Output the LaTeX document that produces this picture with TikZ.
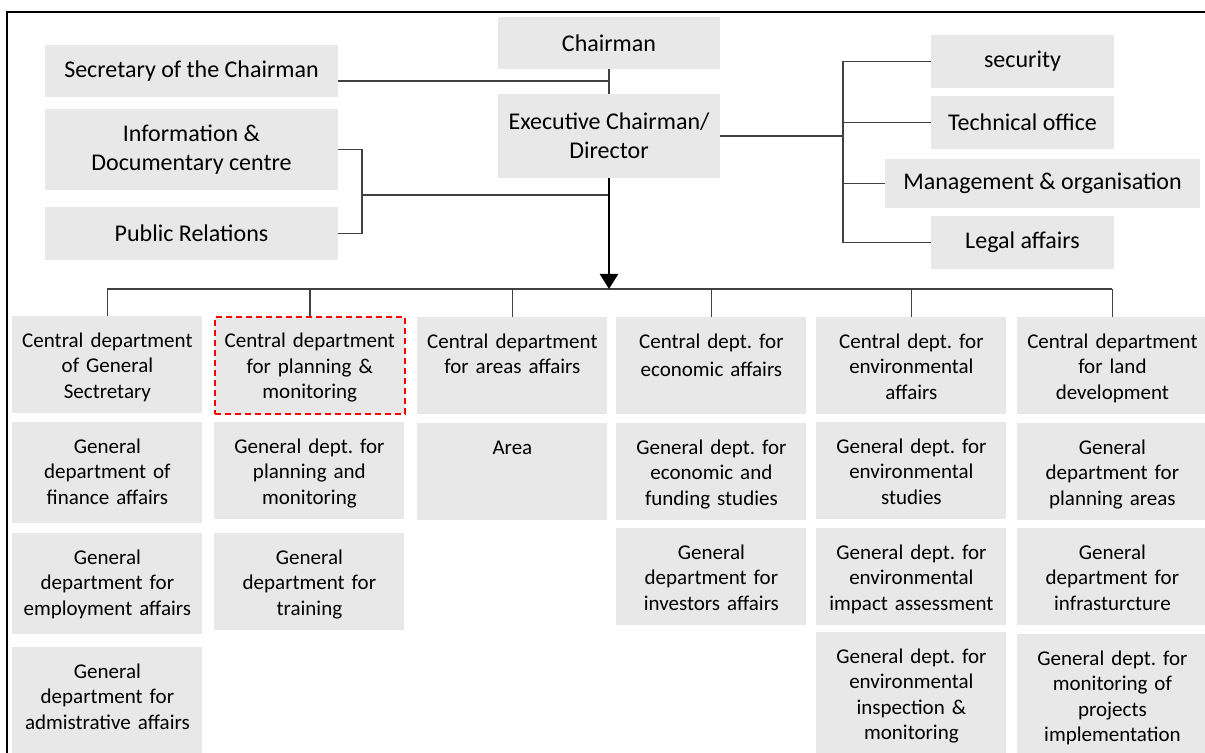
\documentclass[tikz,border=0pt]{standalone}
\usepackage{fontspec}
\setmainfont{Carlito}
\frenchspacing
\usetikzlibrary{arrows.meta}
\definecolor{boxgray}{HTML}{E8E8E8}
\definecolor{linegray}{HTML}{404040}
\tikzset{
  unit/.style 2 args={fill=boxgray, inner sep=0pt, align=center, minimum width=#1, minimum height=#2, font=\fontsize{12pt}{14.5pt}\selectfont},
  dept/.style={fill=boxgray, inner sep=0pt, anchor=north west, text width=95pt, align=center, text height=15.5pt, text depth=#1},
  dept/.default=33pt,
  conn/.style={draw=linegray, line width=0.8pt},
}
\begin{document}
\begin{tikzpicture}[x=0.5pt, y=-0.5pt, font=\fontsize{10.5pt}{12.75pt}\selectfont]
	\clip (0,0) rectangle (1205,753);
	\draw[line width=1pt] (7,770) -- (7,12) -- (1215,12);

	\node[unit={111pt}{26pt}] (chair) at (609,43) {Chairman};
	\node[unit={111pt}{42pt}] (exec) at (609,136) {Executive Chairman/\\Director};
	\node[unit={146.5pt}{26pt}] (secretary) at (191.5,71) {Secretary of the Chairman};
	\node[unit={146.5pt}{40.5pt}] (info) at (191.5,149.5) {Information \&\\Documentary centre};
	\node[unit={146.5pt}{26.5pt}] (pr) at (191.5,233.5) {Public Relations};
	\node[unit={91.5pt}{26.5pt}] (security) at (1022.5,61.5) {security};
	\node[unit={91.5pt}{26.5pt}] (tech) at (1022.5,122.5) {Technical office};
	\node[unit={157.5pt}{24.5pt}] (mgmt) at (1042.5,183.5) {Management \& organisation};
	\node[unit={91.5pt}{26.5pt}] (legal) at (1022.5,242.5) {Legal affairs};

	\node[dept] (c1) at (12,316) {Central department\\of General\\Sectretary};
	\node[dept, draw=red, line width=0.8pt, dash pattern=on 3pt off 2pt] (c2) at (214,316) {Central department\\for planning \&\\monitoring};
	\node[dept] (c3) at (417,317) {Central department\\for areas affairs};
	\node[dept] (c4) at (616,317) {Central dept. for\\[1.5pt]economic affairs};
	\node[dept] (c5) at (816,317) {Central dept. for\\environmental\\affairs};
	\node[dept] (c6) at (1017,317) {Central department\\for land\\development};

	\node[dept=35pt] (g11) at (12,422) {General\\department of\\finance affairs};
	\node[dept=35pt] (g12) at (12,533) {General\\department for\\employment affairs};
	\node[dept=48pt] (g13) at (12,647) {General\\department for\\admistrative affairs};
	\node[dept] (g21) at (214,422) {General dept. for\\planning and\\monitoring};
	\node[dept] (g22) at (214,533) {General\\department for\\training};
	\node[dept] (g31) at (417,423) {Area};
	\node[dept] (g41) at (616,423) {General dept. for\\economic and\\funding studies};
	\node[dept] (g42) at (616,528) {General\\department for\\investors affairs};
	\node[dept] (g51) at (816,422) {General dept. for\\environmental\\studies};
	\node[dept] (g52) at (816,528) {General dept. for\\environmental\\impact assessment};
	\node[dept=48pt] (g53) at (816,632) {General dept. for\\environmental\\inspection \&\\monitoring};
	\node[dept] (g61) at (1017,423) {General\\department for\\planning areas};
	\node[dept] (g62) at (1017,528) {General\\department for\\infrasturcture};
	\node[dept=48pt] (g63) at (1017,634) {General dept. for\\monitoring of\\projects\\implementation};

	\coordinate (secjoin) at (609,81);
	\coordinate (lbus) at (362,195);
	\coordinate (rbus) at (843,136);
	\coordinate (bus) at (609,289);

	\draw[conn] (chair) -- (exec);
	\draw[conn] (secretary.east |- secjoin) -- (secjoin);
	\draw[conn] (info.east) -| (lbus) |- (pr.east);
	\draw[conn] (lbus) -- (lbus -| exec.south);
	\draw[conn] (exec.east) -- (rbus);
	\draw[conn] (security.west) -| (rbus) |- (legal.west);
	\draw[conn] (tech.west) -- (tech.west -| rbus);
	\draw[conn] (mgmt.west) -- (mgmt.west -| rbus);
	\draw[conn] (c1.north |- bus) -- (c6.north |- bus);
	\foreach \n in {c1,c2,c3,c4,c5,c6}
		\draw[conn] (\n.north |- bus) -- (\n.north);
	\draw[line width=1.3pt, -{Triangle[width=9pt,length=7.5pt]}] (exec.south) -- (bus);
\end{tikzpicture}
\end{document}
